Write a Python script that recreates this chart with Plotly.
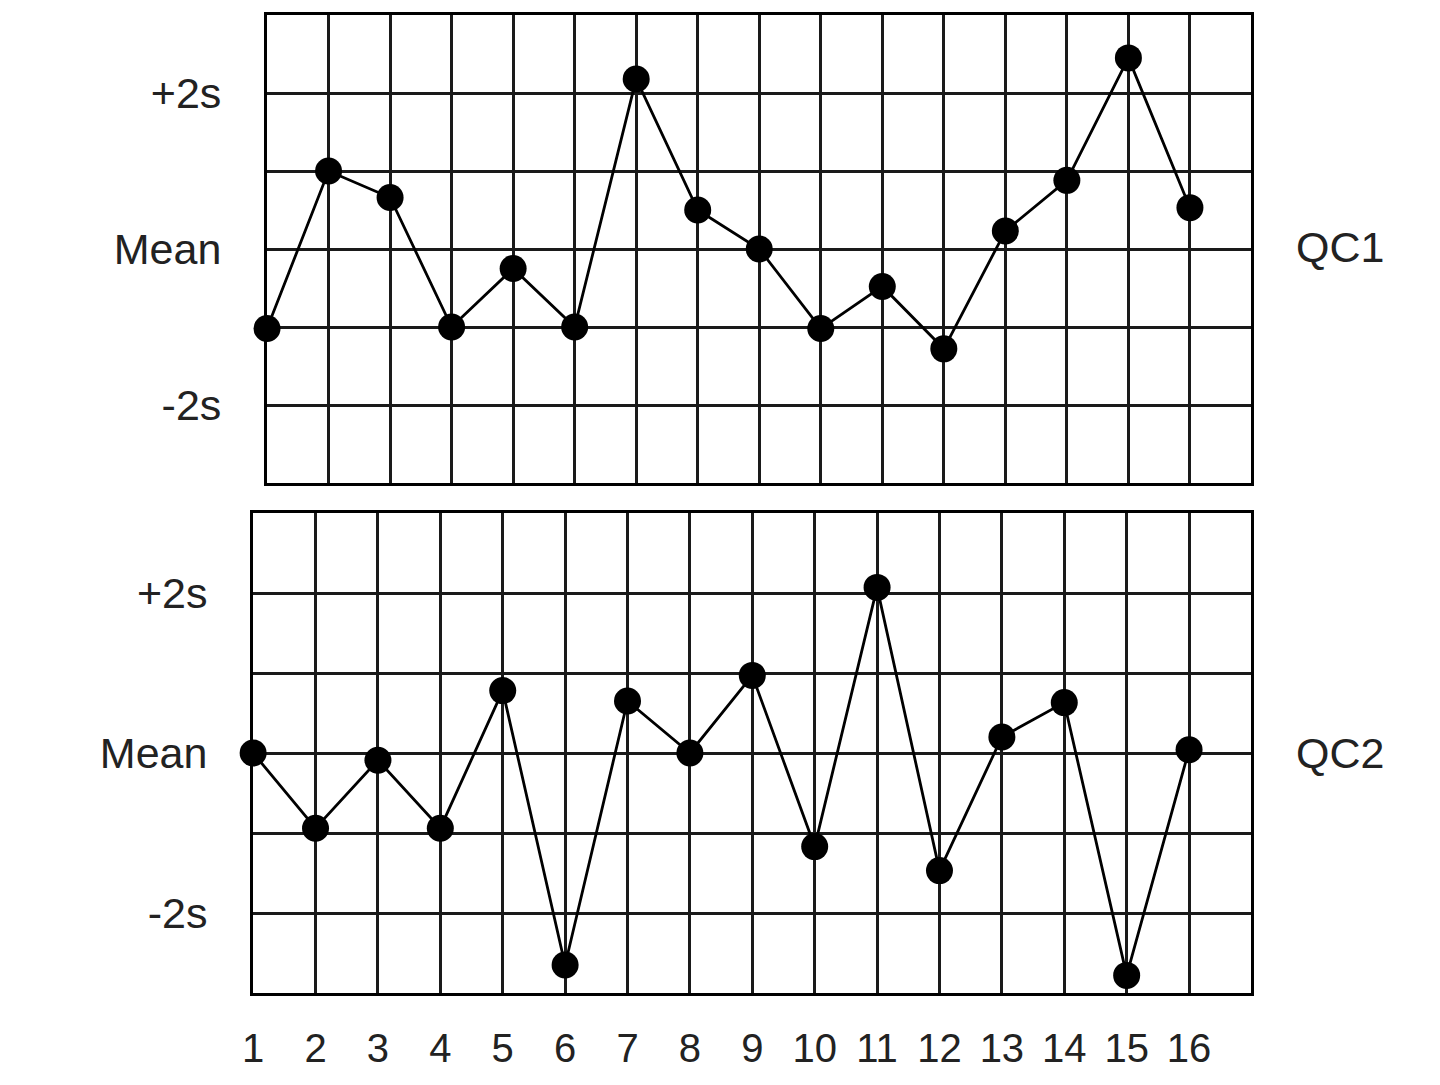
import plotly.graph_objects as go

runs = list(range(1, 17))
qc1 = [-1.02, 1.0, 0.66, -1.0, -0.25, -1.0, 2.18, 0.5, 0.0, -1.02, -0.48, -1.28, 0.23, 0.88, 2.45, 0.53]
qc2 = [0.0, -0.94, -0.09, -0.94, 0.78, -2.65, 0.65, 0.0, 0.97, -1.17, 2.07, -1.47, 0.2, 0.63, -2.78, 0.04]
y_tickvals = [-3, -2, -1, 0, 1, 2, 3]
y_ticktext = ["", "-2s", "", "Mean", "", "+2s", ""]
x_tickvals = list(range(1, 18))
x_ticktext = [str(i) for i in range(1, 17)] + [""]
panel_names = ["QC1", "QC2"]

W, H = 1440, 1085
FONT = "Liberation Sans, Arial, Helvetica, sans-serif"

fig = go.Figure()
for i, vals in enumerate([qc1, qc2]):
    fig.add_trace(go.Scatter(
        x=runs, y=vals, mode="lines+markers",
        line=dict(color="black", width=2.8),
        marker=dict(color="black", size=27),
        cliponaxis=False, showlegend=False,
        xaxis="x" if i == 0 else "x2", yaxis="y" if i == 0 else "y2",
    ))

def px(x):
    return x / W

def py(y):
    return 1 - y / H

axis_common = dict(
    showline=True, mirror=True, linecolor="black", linewidth=3.2,
    showgrid=True, gridcolor="#1a1a1a", gridwidth=2.6,
    zeroline=False, ticks="", fixedrange=True,
)

fig.update_layout(
    width=W, height=H,
    margin=dict(l=0, r=0, t=0, b=0),
    paper_bgcolor="white", plot_bgcolor="white",
    font=dict(family=FONT, color="#222"),
    xaxis=dict(domain=[px(258), px(1250)], range=[1, 17], tickvals=x_tickvals,
               showticklabels=False, anchor="y", **axis_common),
    yaxis=dict(domain=[py(483), py(15)], range=[-3, 3], tickvals=y_tickvals,
               ticktext=y_ticktext, tickfont=dict(size=43, family=FONT, color="#222"),
               ticklabelstandoff=34, anchor="x", **axis_common),
    xaxis2=dict(domain=[px(244), px(1250)], range=[1, 17], tickvals=x_tickvals,
                ticktext=x_ticktext, tickfont=dict(size=40, family=FONT, color="#222"),
                ticklabelstandoff=18, anchor="y2", **axis_common),
    yaxis2=dict(domain=[py(993), py(513)], range=[-3, 3], tickvals=y_tickvals,
                ticktext=y_ticktext, tickfont=dict(size=43, family=FONT, color="#222"),
                ticklabelstandoff=34, anchor="x2", **axis_common),
)

fig.add_annotation(x=px(1293), y=py(247), xref="paper", yref="paper", text=panel_names[0],
                   showarrow=False, xanchor="left", yanchor="middle",
                   font=dict(size=43, family=FONT, color="#222"))
fig.add_annotation(x=px(1293), y=py(753), xref="paper", yref="paper", text=panel_names[1],
                   showarrow=False, xanchor="left", yanchor="middle",
                   font=dict(size=43, family=FONT, color="#222"))

fig.write_html("out.html")
